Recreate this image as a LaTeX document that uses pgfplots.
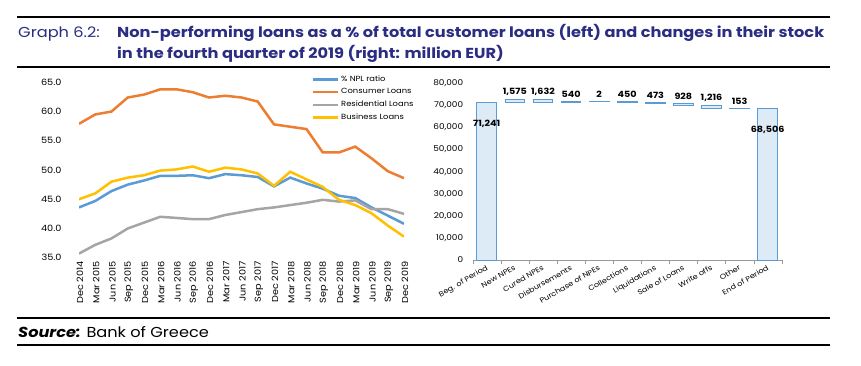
\documentclass[border=0pt]{standalone}
\usepackage{pgfplots}
\usepackage{pgfplotstable}
\pgfplotsset{compat=1.18}
\usepackage{fontspec}
\setmainfont{Poppins}[FakeStretch=1.12]
\definecolor{navy}{RGB}{43,45,130}
\definecolor{nplblue}{RGB}{91,155,213}
\definecolor{consorange}{RGB}{237,125,49}
\definecolor{resgray}{RGB}{165,165,165}
\definecolor{busyellow}{RGB}{255,192,0}
\definecolor{barfill}{RGB}{221,235,247}
\definecolor{barblue}{RGB}{91,155,213}

\pgfplotstableread{
i npl cons res bus
0 43.6 57.9 35.7 45.0
1 44.7 59.5 37.2 46.0
2 46.4 60.0 38.3 48.0
3 47.5 62.4 40.0 48.7
4 48.2 62.9 41.0 49.1
5 49.0 63.8 42.0 49.9
6 49.0 63.8 41.8 50.1
7 49.1 63.3 41.6 50.6
8 48.6 62.4 41.6 49.7
9 49.3 62.7 42.3 50.4
10 49.1 62.4 42.8 50.1
11 48.8 61.7 43.3 49.4
12 47.2 57.8 43.6 47.3
13 48.7 57.4 44.0 49.7
14 47.7 57.0 44.4 48.4
15 46.8 53.0 44.9 47.1
16 45.6 53.0 44.6 44.9
17 45.2 54.0 44.8 44.0
18 43.6 52.0 43.3 42.6
19 42.2 49.8 43.3 40.5
20 40.8 48.6 42.5 38.6
}\npldata

\pgfplotstableread{
x base h top dy
0 0 71241 71241 -21
1 71241 1575 72816 7.5
2 71184 1632 72816 7.5
3 71184 540 71724 7.5
4 71724 2 71726 7.5
5 71276 450 71726 7.5
6 70803 473 71276 7.5
7 69875 928 70803 7.5
8 68659 1216 69875 7.5
9 68506 153 68659 7.5
10 0 68506 68506 -21
}\wfdata

\begin{document}
\begin{tikzpicture}[x=1bp,y=1bp]
\path[use as bounding box, fill=white] (0,0) rectangle (861,365);
% rules
\draw[line width=1.1bp] (17,348) -- (830,348);
\draw[line width=1.1bp] (17,298) -- (830,298);
\draw[line width=1.1bp] (17,47) -- (830,47);
\draw[line width=1.1bp] (17,20) -- (830,20);
% title
\node[anchor=base west, inner sep=0, text=navy, font=\fontsize{14.5}{17}\selectfont] at (18,328) {Graph 6.2:};
\node[anchor=base west, inner sep=0, text=navy, font=\fontsize{14.5}{17}\selectfont\bfseries] at (117,328) {Non-performing loans as a \% of total customer loans (left) and changes in their stock};
\node[anchor=base west, inner sep=0, text=navy, font=\fontsize{14.5}{17}\selectfont\bfseries] at (117,307) {in the fourth quarter of 2019 (right: million EUR)};
% source
\node[anchor=base west, inner sep=0, font=\fontsize{14.5}{17}\selectfont] at (18,28) {\textbf{\textit{Source:}} Bank of Greece};

% left chart
\begin{axis}[
  at={(79bp,107.3bp)}, anchor=south west, scale only axis,
  width=325bp, height=175.4bp,
  xmin=0, xmax=20, ymin=35, ymax=65,
  axis line style={draw=none},
  major tick length=0,
  /pgf/number format/assume math mode=true,
  tick label style={font=\fontsize{8.7}{10}\selectfont},
  ytick={35,40,...,65},
  yticklabel style={/pgf/number format/fixed, /pgf/number format/fixed zerofill, /pgf/number format/precision=1, xshift=-14bp},
  xtick={0,...,20},
  xticklabels={Dec 2014, Mar 2015, Jun 2015, Sep 2015, Dec 2015, Mar 2016, Jun 2016, Sep 2016, Dec 2016, Mar 2017, Jun 2017, Sep 2017, Dec 2017, Mar 2018, Jun 2018, Sep 2018, Dec 2018, Mar 2019, Jun 2019, Sep 2019, Dec 2019},
  xticklabel style={rotate=90, anchor=east, yshift=-1bp},
  legend style={at={(0.715,1.05)}, anchor=north west, draw=none, fill=none,
    font=\fontsize{7.5}{9}\selectfont, row sep=1.8bp, inner sep=0pt,
    /tikz/every even column/.append style={column sep=0pt}},
  legend cell align=left,
  legend image code/.code={\draw[#1, line width=2.6bp] (0bp,0bp) -- (25bp,0bp);},
  every axis plot/.append style={line width=2.5bp, mark=none},
]
\addplot[nplblue] table[x=i,y=npl]{\npldata};
\addplot[consorange] table[x=i,y=cons]{\npldata};
\addplot[resgray] table[x=i,y=res]{\npldata};
\addplot[busyellow] table[x=i,y=bus]{\npldata};
\legend{\% NPL ratio, Consumer Loans, Residential Loans, Business Loans}
\end{axis}

% right chart: bars
\begin{axis}[
  at={(472.7bp,105bp)}, anchor=south west, scale only axis,
  width=309bp, height=176.7bp,
  xmin=-0.5, xmax=10.5, ymin=0, ymax=80000,
  ybar stacked, bar width=19.7bp,
  axis x line*=bottom, axis y line*=left,
  x axis line style={draw=gray!80},
  y axis line style={draw=none},
  major tick length=0,
  minor xtick={-0.5,0.5,...,10.5},
  minor tick length=4bp, tick align=outside,
  minor tick style={gray!80},
  /pgf/number format/assume math mode=true,
  tick label style={font=\fontsize{8}{9}\selectfont},
  ytick={0,10000,...,80000}, scaled y ticks=false,
  yticklabel style={/pgf/number format/fixed, /pgf/number format/1000 sep={,}, xshift=-6bp},
  xtick={0,...,10},
  xticklabels={Beg. of Period, New NPEs, Cured NPEs, Disbursements, Purchase of NPEs, Collections, Liquidations, Sale of Loans, Write offs, Other, End of Period},
  xticklabel style={rotate=30, anchor=north east, font=\fontsize{7.2}{8}\selectfont},
]
\addplot[draw=none, fill=none] table[x=x,y=base]{\wfdata};
\addplot[fill=barfill, draw=barblue, line width=0.9bp] table[x=x,y=h]{\wfdata};
\end{axis}

% right chart: value labels
\begin{axis}[
  at={(472.7bp,105bp)}, anchor=south west, scale only axis,
  width=309bp, height=176.7bp,
  xmin=-0.5, xmax=10.5, ymin=0, ymax=80000,
  hide axis, clip=false,
]
\addplot[only marks, mark=none,
  point meta=explicit,
  visualization depends on={\thisrow{dy} \as \dy},
  nodes near coords={\pgfmathprintnumber[fixed,precision=0,1000 sep={,},assume math mode=true]{\pgfplotspointmeta}},
  every node near coord/.append style={anchor=center, font=\fontsize{8.6}{10}\selectfont\bfseries, text=black, yshift=\dy bp},
] table[x=x,y=top,meta=h]{\wfdata};
\end{axis}
\end{tikzpicture}
\end{document}
